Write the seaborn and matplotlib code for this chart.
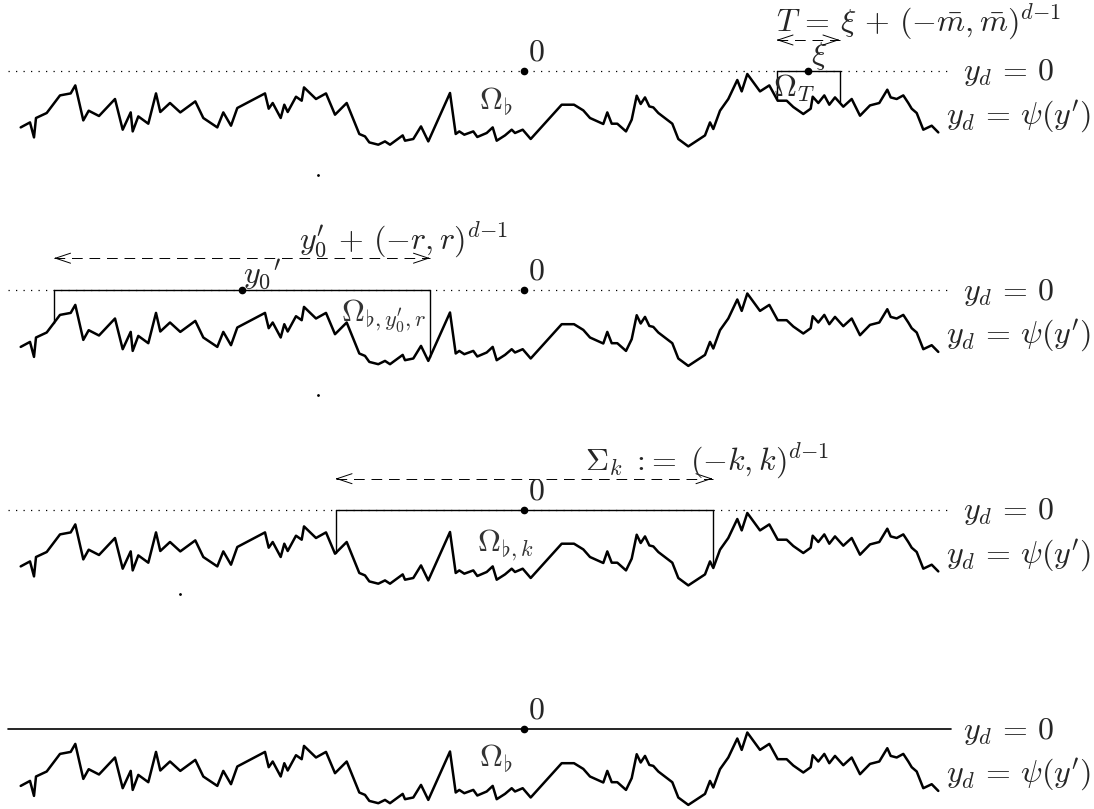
import numpy as np
import pandas as pd
import seaborn as sns
import matplotlib.pyplot as plt

# boundary y_d = psi(y'): position along y' (0 = marked origin) and depth below y_d = 0
psi_x = [-503.3, -494, -490, -488, -477.3, -464, -453.3, -448.7, -440.7, -435.3,
         -425, -409, -401.3, -393.3, -391.3, -385.7, -375.7, -368, -363.7, -354,
         -343.7, -328.7, -320.7, -306.7, -300.7, -293, -286.7, -259, -255.3, -251.3,
         -243.3, -239.7, -236.3, -228, -222.3, -220, -208, -198, -189, -177.3,
         -164.7, -159, -154.7, -145.7, -139, -134, -121.3, -119, -110.7, -103,
         -95.7, -74, -68.3, -64.7, -59.7, -50.7, -46.7, -37.3, -31.3, -27.3,
         -19, -12.3, -9, -1.3, 6.7, 37.7, 50, 59.3, 66, 79.3,
         83.3, 87.7, 93.3, 102, 107.7, 112.7, 116.7, 121, 125.3, 129.3,
         134.3, 148.3, 154.3, 164.3, 181, 186, 189.3, 196, 204.3, 213.3,
         217.7, 223.3, 236, 245.3, 253.7, 262.7, 269.3, 279.3, 286.7, 288.7,
         294.3, 300.3, 305.3, 311, 319.3, 327.7, 336, 346, 355.3, 363.3,
         366.7, 372.7, 379.3, 384.3, 387.7, 392.7, 399.3, 407.7, 414.3]
psi_depth = [56.7, 51.7, 66.7, 47.3, 42.3, 24.7, 22.7, 14.7, 49.7, 40,
             45.3, 28.3, 59, 41.7, 60.7, 45.7, 53, 22.7, 41.3, 32.3,
             41.7, 30.7, 47.3, 56.7, 41.7, 55, 37.3, 22.7, 38, 32.3,
             47.3, 34, 41.3, 26, 30, 16.7, 28.3, 22.7, 44, 32.3,
             63.3, 65.7, 71.7, 74, 70.7, 74, 64.7, 70, 68.3, 55.7,
             70.7, 22.3, 63.3, 60.7, 64, 60.7, 66.3, 62.3, 56.7, 70,
             64.7, 59, 62.3, 59, 68.3, 34, 34, 39.7, 47.3, 53.3,
             41.7, 53, 53, 60.7, 49, 25, 33.3, 26.7, 35.7, 36.7,
             42.3, 53, 68.3, 75.7, 64.7, 51.7, 58.3, 40, 28.3, 9.3,
             20.7, 3.3, 20.7, 14.7, 30, 30, 36.3, 43.3, 38, 26,
             32.3, 24.7, 34, 26.7, 36, 28.3, 45, 34.7, 32.3, 19,
             26.7, 28.3, 24.7, 32.3, 38, 42.3, 59, 55, 61.7]

# cylinders over the boundary: centre and half width
xi, m_bar = 284, 31.5
y0, r = -282, 188
k_half = 188.5

panel_gap = 219.5
line_left, line_right = -516, 424

sns.set_theme(style='white')
plt.rcParams['mathtext.fontset'] = 'cm'
plt.rcParams['font.family'] = ['DejaVu Serif', 'DejaVu Sans']

fig = plt.figure(figsize=(10.94, 8.09), dpi=100)
ax = fig.add_axes([0, 0, 1, 1])
ax.set_xlim(-524, 570)
ax.set_ylim(-809 + 70.7, 70.7)
ax.axis('off')

fs = 23
EQ = '\\,=\\,'
PL = '\\,+\\,'
psi_x = np.array(psi_x)
psi_depth = np.array(psi_depth)


def psi_at(x):
    return -np.interp(x, psi_x, psi_depth)


def cylinder(base, left, right):
    ax.plot([left, right], [base, base], color='black', lw=1.0)
    ax.plot([left, left], [base, base + psi_at(left)], color='black', lw=1.0)
    ax.plot([right, right], [base, base + psi_at(right)], color='black', lw=1.0)


def double_arrow(base, left, right, dy):
    y = base + dy
    ax.plot([left, right], [y, y], color='black', lw=0.7, linestyle=(0, (11, 7)))
    for tip, tail in [(left, left + 2), (right, right - 2)]:
        ax.annotate('', xy=(tip, y), xytext=(tail, y),
                    arrowprops=dict(arrowstyle='->,head_length=0.9,head_width=0.3',
                                    lw=0.7, color='black', shrinkA=0, shrinkB=0))


for p in range(4):
    base = -p * panel_gap
    df = pd.DataFrame({'x': psi_x, 'y': base - psi_depth})
    sns.lineplot(data=df, x='x', y='y', sort=False, estimator=None,
                 color='black', lw=1.8, ax=ax)
    if p < 3:
        ax.plot([line_left, line_right], [base, base], color='black', lw=0.9,
                linestyle=(0, (1, 5)))
    else:
        ax.plot([line_left, line_right + 3], [base, base], color='black', lw=1.2)
    ax.plot([0], [base], 'o', color='black', ms=4.5)
    ax.text(12, base + 19, '$0$', fontsize=fs, ha='center', va='center')
    ax.text(439, base - 2, '$y_d' + EQ + '0$', fontsize=fs, ha='left', va='center')
    ax.text(422, base - 46, "$y_d" + EQ + "\\psi(y')$", fontsize=fs, ha='left',
            va='center')

# panel 1: small cylinder T around xi
b = 0
cylinder(b, xi - m_bar, xi + m_bar)
ax.plot([xi], [b], 'o', color='black', ms=4.5)
ax.text(xi + 11, b + 15, '$\\xi$', fontsize=fs, ha='center', va='center')
double_arrow(b, xi - m_bar, xi + m_bar, 30.7)
ax.text(xi - m_bar, b + 49, '$T' + EQ + '\\xi' + PL + '(-\\bar{m}, \\bar{m})^{d{-}1}$',
        fontsize=fs, ha='left', va='center')
ax.text(xi - 14, b - 18, '$\\Omega_T$', fontsize=fs, ha='center', va='center')
ax.text(-28, b - 31, '$\\Omega_\\flat$', fontsize=fs, ha='center', va='center',
        color='#333333')
ax.plot([-206], [-104], 'o', color='black', ms=1)

# panel 2: cylinder around y0'
b = -panel_gap
cylinder(b, y0 - r, y0 + r)
ax.plot([y0], [b], 'o', color='black', ms=4.5)
ax.text(y0 + 20, b + 16, "$y_0{}'$", fontsize=fs, ha='center', va='center')
double_arrow(b, y0 - r, y0 + r, 32)
ax.text(y0 + 162, b + 50, "$y_0'" + PL + "(-r, r)^{d{-}1}$", fontsize=fs, ha='center',
        va='center')
ax.text(y0 + 142, b - 25, "$\\Omega_{\\flat,y_0',r}$", fontsize=fs, ha='center',
        va='center', color='#333333')
ax.plot([-206], [b - 105], 'o', color='black', ms=1)

# panel 3: Sigma_k
b = -2 * panel_gap
cylinder(b, -k_half, k_half)
double_arrow(b, -k_half, k_half, 31)
ax.text(61, b + 49, '$\\Sigma_k\\;{:}\\!{=}\\;(-k, k)^{d{-}1}$', fontsize=fs,
        ha='left', va='center')
ax.text(-19, b - 36, '$\\Omega_{\\flat,k}$', fontsize=fs, ha='center', va='center',
        color='#333333')
ax.plot([-344], [b - 84], 'o', color='black', ms=1)

# panel 4: plain picture
b = -3 * panel_gap
ax.text(-28, b - 29, '$\\Omega_\\flat$', fontsize=fs, ha='center', va='center',
        color='#333333')

fig.savefig('out.png', dpi=100)
